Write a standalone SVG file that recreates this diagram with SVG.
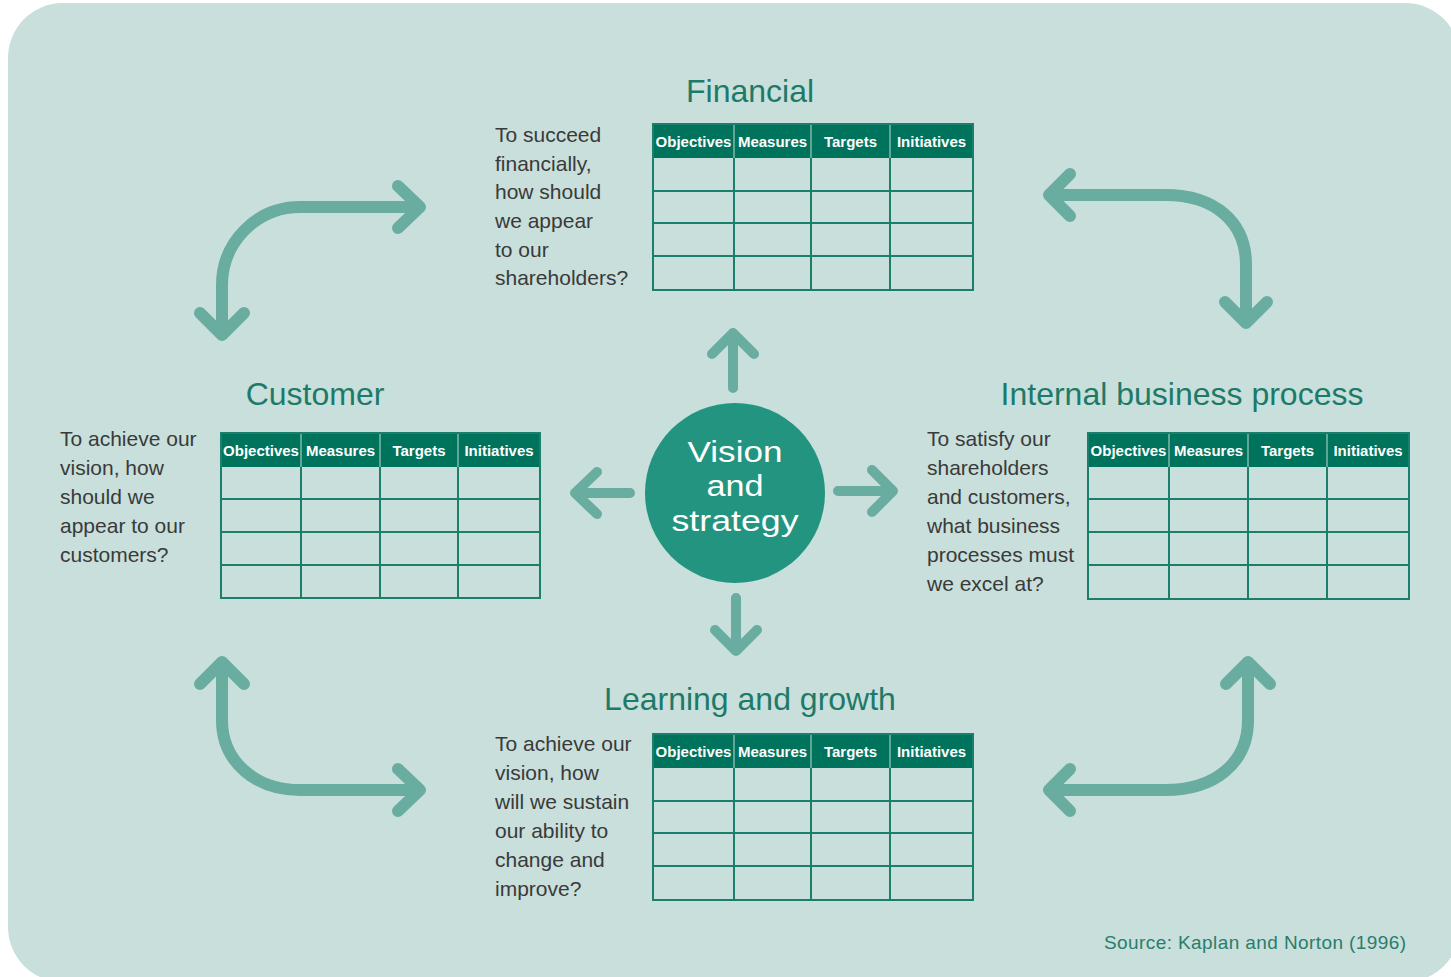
<svg xmlns="http://www.w3.org/2000/svg" width="1451" height="977" viewBox="0 0 1451 977">
<style>
.title{font-family:"Liberation Sans",Arial,sans-serif;font-size:32px;fill:#1e7a68;text-anchor:middle}
.q{font-family:"Liberation Sans",Arial,sans-serif;font-size:21px;fill:#3a3a3a}
.hdr{fill:#00735d}
.ht{font-family:"Liberation Sans",Arial,sans-serif;font-size:15px;font-weight:bold;fill:#ffffff;text-anchor:middle}
.grid{fill:none;stroke:#1b7f6c;stroke-width:2}
.hsep{stroke:#7fb8ab;stroke-width:1.5}
.arr{fill:none;stroke:#68ad9f;stroke-width:12;stroke-linecap:round;stroke-linejoin:round}
.arc{fill:none;stroke:#68ad9f;stroke-width:10;stroke-linecap:round;stroke-linejoin:round}
.vs{font-family:"Liberation Sans",Arial,sans-serif;font-size:30px;fill:#ffffff;text-anchor:middle}
.src{font-family:"Liberation Sans",Arial,sans-serif;font-size:19px;fill:#2a7d6c}
</style>
<rect x="0" y="0" width="1451" height="977" fill="#ffffff"/>
<rect x="8" y="3" width="1452" height="979" rx="55" ry="55" fill="#c8dfdb"/>

<g id="connectors">
  <path class="arr" d="M222 332 L222 285 C222 242 257 207 300 207 L418 207"/>
  <path class="arr" d="M200 313 L222 335 L244 313"/>
  <path class="arr" d="M398 186 L420 207 L398 228"/>
  <path class="arr" d="M1050 195 L1165 195 C1215 195 1246 222 1246 265 L1246 322"/>
  <path class="arr" d="M1070 174 L1049 195 L1070 216"/>
  <path class="arr" d="M1225 302 L1246 323 L1267 302"/>
  <path class="arr" d="M222 664 L222 720 C222 763 257 790 300 790 L418 790"/>
  <path class="arr" d="M200 684 L222 662 L244 684"/>
  <path class="arr" d="M398 769 L420 790 L398 811"/>
  <path class="arr" d="M1248 664 L1248 720 C1248 763 1215 790 1165 790 L1050 790"/>
  <path class="arr" d="M1226 684 L1248 662 L1270 684"/>
  <path class="arr" d="M1070 769 L1049 790 L1070 811"/>
  <path class="arc" d="M733 388 L733 336 M712 354 L733 333 L754 354"/>
  <path class="arc" d="M630 493 L576 493 M597 472 L575 493 L597 514"/>
  <path class="arc" d="M838 491 L892 491 M872 470 L893 491 L872 512"/>
  <path class="arc" d="M736 598 L736 650 M715 630 L736 651 L757 630"/>
</g>

<g id="vision">
  <circle cx="735" cy="493" r="90" fill="#239480"/>
  <text class="vs" x="735" y="462" textLength="95" lengthAdjust="spacingAndGlyphs">Vision</text>
  <text class="vs" x="735" y="496" textLength="57" lengthAdjust="spacingAndGlyphs">and</text>
  <text class="vs" x="735" y="531" textLength="127" lengthAdjust="spacingAndGlyphs">strategy</text>
</g>

<g id="financial">
  <text class="title" x="750" y="102">Financial</text>
  <text class="q" x="495" y="142">To succeed</text>
  <text class="q" x="495" y="171">financially,</text>
  <text class="q" x="495" y="199">how should</text>
  <text class="q" x="495" y="228">we appear</text>
  <text class="q" x="495" y="257">to our</text>
  <text class="q" x="495" y="285">shareholders?</text>
  <g transform="translate(653,124)">
    <rect class="hdr" x="0" y="0" width="320" height="34"/>
    <line class="hsep" x1="81" y1="1" x2="81" y2="34"/>
    <line class="hsep" x1="158" y1="1" x2="158" y2="34"/>
    <line class="hsep" x1="237" y1="1" x2="237" y2="34"/>
    <rect class="grid" x="0" y="0" width="320" height="166"/>
    <path class="grid" d="M0 67 H320 M0 99 H320 M0 132 H320 M81 34 V166 M158 34 V166 M237 34 V166"/>
    <text class="ht" x="40.5" y="23">Objectives</text>
    <text class="ht" x="119.5" y="23">Measures</text>
    <text class="ht" x="197.5" y="23">Targets</text>
    <text class="ht" x="278.5" y="23">Initiatives</text>
  </g>
</g>

<g id="customer">
  <text class="title" x="315" y="405">Customer</text>
  <text class="q" x="60" y="446">To achieve our</text>
  <text class="q" x="60" y="475">vision, how</text>
  <text class="q" x="60" y="504">should we</text>
  <text class="q" x="60" y="533">appear to our</text>
  <text class="q" x="60" y="562">customers?</text>
  <g transform="translate(221,433)">
    <rect class="hdr" x="0" y="0" width="319" height="34"/>
    <line class="hsep" x1="80" y1="1" x2="80" y2="34"/>
    <line class="hsep" x1="159" y1="1" x2="159" y2="34"/>
    <line class="hsep" x1="237" y1="1" x2="237" y2="34"/>
    <rect class="grid" x="0" y="0" width="319" height="165"/>
    <path class="grid" d="M0 66 H319 M0 99 H319 M0 132 H319 M80 34 V165 M159 34 V165 M237 34 V165"/>
    <text class="ht" x="40" y="23">Objectives</text>
    <text class="ht" x="119.5" y="23">Measures</text>
    <text class="ht" x="198" y="23">Targets</text>
    <text class="ht" x="278" y="23">Initiatives</text>
  </g>
</g>

<g id="internal">
  <text class="title" x="1182" y="405">Internal business process</text>
  <text class="q" x="927" y="446">To satisfy our</text>
  <text class="q" x="927" y="475">shareholders</text>
  <text class="q" x="927" y="504">and customers,</text>
  <text class="q" x="927" y="533">what business</text>
  <text class="q" x="927" y="562">processes must</text>
  <text class="q" x="927" y="591">we excel at?</text>
  <g transform="translate(1088,433)">
    <rect class="hdr" x="0" y="0" width="321" height="34"/>
    <line class="hsep" x1="81" y1="1" x2="81" y2="34"/>
    <line class="hsep" x1="160" y1="1" x2="160" y2="34"/>
    <line class="hsep" x1="239" y1="1" x2="239" y2="34"/>
    <rect class="grid" x="0" y="0" width="321" height="166"/>
    <path class="grid" d="M0 66 H321 M0 99 H321 M0 132 H321 M81 34 V166 M160 34 V166 M239 34 V166"/>
    <text class="ht" x="40.5" y="23">Objectives</text>
    <text class="ht" x="120.5" y="23">Measures</text>
    <text class="ht" x="199.5" y="23">Targets</text>
    <text class="ht" x="280" y="23">Initiatives</text>
  </g>
</g>

<g id="learning">
  <text class="title" x="750" y="710">Learning and growth</text>
  <text class="q" x="495" y="751">To achieve our</text>
  <text class="q" x="495" y="780">vision, how</text>
  <text class="q" x="495" y="809">will we sustain</text>
  <text class="q" x="495" y="838">our ability to</text>
  <text class="q" x="495" y="867">change and</text>
  <text class="q" x="495" y="896">improve?</text>
  <g transform="translate(653,734)">
    <rect class="hdr" x="0" y="0" width="320" height="34"/>
    <line class="hsep" x1="81" y1="1" x2="81" y2="34"/>
    <line class="hsep" x1="158" y1="1" x2="158" y2="34"/>
    <line class="hsep" x1="237" y1="1" x2="237" y2="34"/>
    <rect class="grid" x="0" y="0" width="320" height="166"/>
    <path class="grid" d="M0 67 H320 M0 99 H320 M0 132 H320 M81 34 V166 M158 34 V166 M237 34 V166"/>
    <text class="ht" x="40.5" y="23">Objectives</text>
    <text class="ht" x="119.5" y="23">Measures</text>
    <text class="ht" x="197.5" y="23">Targets</text>
    <text class="ht" x="278.5" y="23">Initiatives</text>
  </g>
</g>

<text class="src" x="1104" y="949" textLength="302">Source:  Kaplan and Norton (1996)</text>
</svg>
